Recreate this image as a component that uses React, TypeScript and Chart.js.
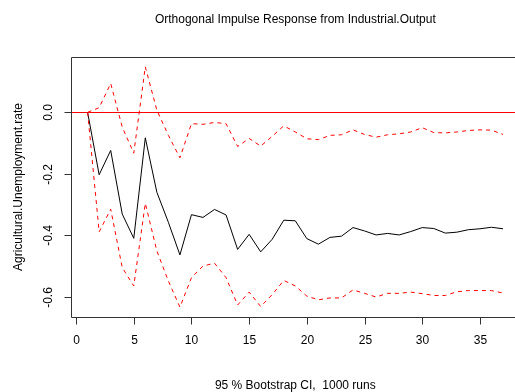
import React, { useEffect, useRef } from "react";
import { Chart, registerables } from "chart.js";

Chart.register(...registerables);

const steps: number[] = Array.from({ length: 37 }, (_, i) => i + 1);
const response: number[] = [
  0.0, -0.203, -0.124, -0.331, -0.41, -0.083, -0.26, -0.358, -0.464, -0.333,
  -0.342, -0.316, -0.334, -0.446, -0.397, -0.454, -0.413, -0.351, -0.353, -0.411,
  -0.429, -0.407, -0.403, -0.375, -0.386, -0.399, -0.394, -0.399, -0.388, -0.375,
  -0.378, -0.393, -0.39, -0.382, -0.379, -0.374, -0.379,
];
const upperCI: number[] = [
  0.0, 0.015, 0.094, -0.048, -0.133, 0.148, 0.007, -0.075, -0.148, -0.037,
  -0.039, -0.033, -0.037, -0.111, -0.085, -0.11, -0.078, -0.044, -0.064, -0.086,
  -0.089, -0.075, -0.073, -0.057, -0.072, -0.081, -0.073, -0.07, -0.064, -0.05,
  -0.066, -0.067, -0.064, -0.059, -0.057, -0.058, -0.072,
];
const lowerCI: number[] = [
  0.0, -0.389, -0.315, -0.505, -0.565, -0.296, -0.451, -0.549, -0.634, -0.538,
  -0.5, -0.491, -0.538, -0.627, -0.585, -0.632, -0.593, -0.547, -0.565, -0.598,
  -0.61, -0.604, -0.604, -0.578, -0.589, -0.601, -0.589, -0.589, -0.585, -0.59,
  -0.596, -0.596, -0.584, -0.58, -0.58, -0.58, -0.588,
];
const xTicks: number[] = [0, 5, 10, 15, 20, 25, 30, 35];
const yTicks: number[] = [0.0, -0.2, -0.4, -0.6];
const yTickLabels: string[] = ["0.0", "-0.2", "-0.4", "-0.6"];

const TITLE = "Orthogonal Impulse Response from Industrial.Output";
const XLABEL = "95 % Bootstrap CI,  1000 runs";
const YLABEL = "Agricultural.Unemployment.rate";
const FONT = '12px "Liberation Sans", Arial, sans-serif';

const rPlot = {
  id: "rPlot",
  beforeDatasetsDraw(chart: any) {
    const { ctx, chartArea: a, scales } = chart;
    const y = scales.y;
    ctx.save();
    ctx.strokeStyle = "#FF0000";
    ctx.lineWidth = 1;
    const y0 = Math.round(y.getPixelForValue(0)) + 0.5;
    ctx.beginPath();
    ctx.moveTo(a.left, y0);
    ctx.lineTo(a.right, y0);
    ctx.stroke();
    ctx.restore();
  },
  afterDraw(chart: any) {
    const { ctx, chartArea: a, scales } = chart;
    const x = scales.x;
    const y = scales.y;
    ctx.save();
    ctx.strokeStyle = "#333333";
    ctx.lineWidth = 1;
    const L = Math.round(a.left) + 0.5;
    const T = Math.round(a.top) + 0.5;
    const B = Math.round(a.bottom) + 0.5;
    const R = a.right + 3;
    ctx.beginPath();
    ctx.moveTo(R, T);
    ctx.lineTo(L, T);
    ctx.lineTo(L, B);
    ctx.lineTo(R, B);
    ctx.stroke();

    ctx.fillStyle = "#000000";
    ctx.font = FONT;
    // x ticks
    ctx.textAlign = "center";
    ctx.textBaseline = "middle";
    xTicks.forEach((v) => {
      const px = Math.round(x.getPixelForValue(v)) + 0.5;
      ctx.beginPath();
      ctx.moveTo(px, B);
      ctx.lineTo(px, B + 7);
      ctx.stroke();
      ctx.fillText(String(v), px, 341);
    });
    ctx.beginPath();
    ctx.moveTo(Math.round(x.getPixelForValue(xTicks[0])) + 0.5, B);
    ctx.lineTo(Math.round(x.getPixelForValue(xTicks[xTicks.length - 1])) + 0.5, B);
    ctx.stroke();
    // y ticks
    yTicks.forEach((v, i) => {
      const py = Math.round(y.getPixelForValue(v)) + 0.5;
      ctx.beginPath();
      ctx.moveTo(L, py);
      ctx.lineTo(L - 7, py);
      ctx.stroke();
      ctx.save();
      ctx.translate(49, py);
      ctx.rotate(-Math.PI / 2);
      ctx.fillText(yTickLabels[i], 0, 0);
      ctx.restore();
    });
    // title & labels
    const cx = (a.left + x.getPixelForValue(38.44)) / 2;
    ctx.fillText(TITLE, cx, 20);
    ctx.fillText(XLABEL, cx, 386);
    ctx.save();
    ctx.translate(19, (a.top + a.bottom) / 2);
    ctx.rotate(-Math.PI / 2);
    ctx.fillText(YLABEL, 0, 0);
    ctx.restore();
    ctx.restore();
  },
};

export default function App() {
  const ref = useRef<HTMLCanvasElement | null>(null);
  useEffect(() => {
    if (!ref.current) return;
    const mk = (d: number[]) => steps.map((s, i) => ({ x: s, y: d[i] }));
    const chart = new Chart(ref.current, {
      type: "line",
      data: {
        datasets: [
          {
            data: mk(upperCI),
            borderColor: "#FF0000",
            borderWidth: 1,
            borderDash: [4, 4],
            pointRadius: 0,
            tension: 0,
          },
          {
            data: mk(lowerCI),
            borderColor: "#FF0000",
            borderWidth: 1,
            borderDash: [4, 4],
            pointRadius: 0,
            tension: 0,
          },
          {
            data: mk(response),
            borderColor: "#000000",
            borderWidth: 1,
            pointRadius: 0,
            tension: 0,
          },
        ],
      },
      options: {
        animation: false,
        responsive: false,
        layout: { padding: { left: 71, top: 57, right: 0, bottom: 75 } },
        plugins: { legend: { display: false }, tooltip: { enabled: false }, title: { display: false } },
        scales: {
          x: { type: "linear", min: -0.44, max: 38.04, display: false },
          y: { type: "linear", min: -0.666, max: 0.18, display: false },
        },
      },
      plugins: [rPlot],
    });
    return () => chart.destroy();
  }, []);
  return (
    <div style={{ position: "fixed", left: 0, top: 0, width: 515, height: 392, background: "#fff" }}>
      <canvas ref={ref} width={515} height={392} style={{ width: 515, height: 392, display: "block" }} />
    </div>
  );
}
